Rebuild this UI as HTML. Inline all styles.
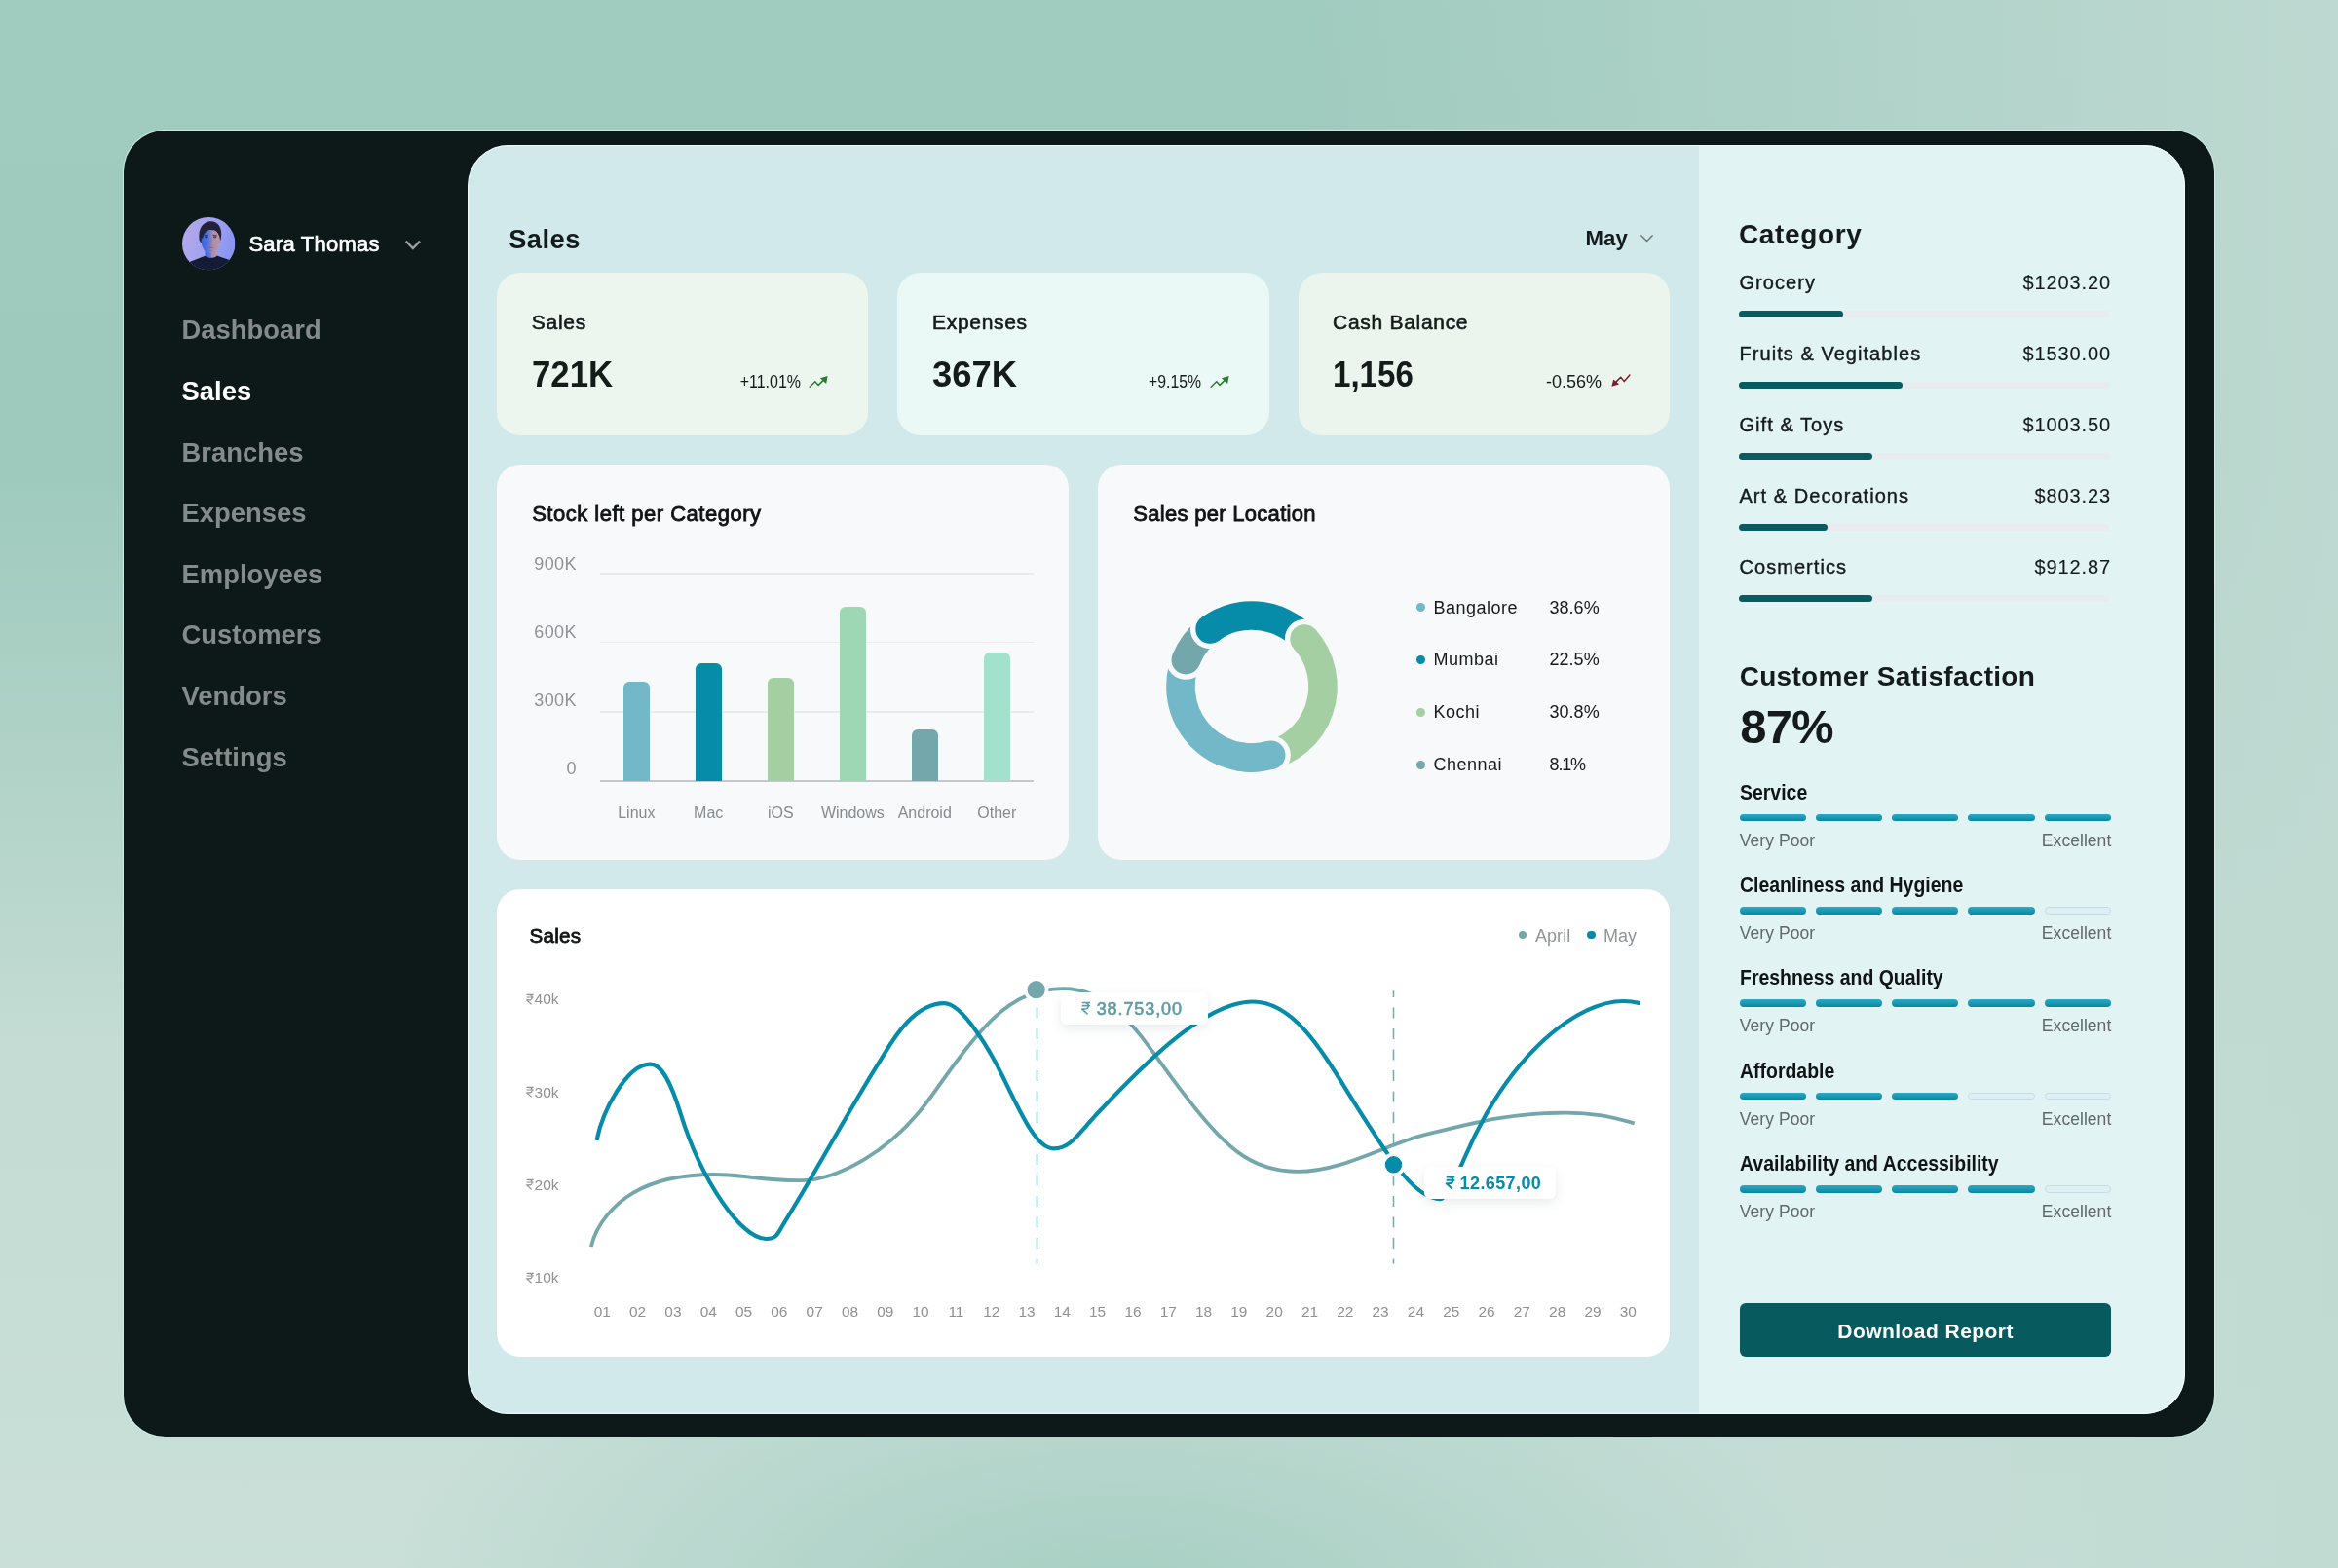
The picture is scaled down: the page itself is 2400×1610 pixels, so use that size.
<!DOCTYPE html>
<html lang="en">
<head>
<meta charset="utf-8">
<title>Sales Dashboard</title>
<style>
html,body{margin:0;padding:0;}
body{width:2400px;height:1610px;overflow:hidden;font-family:"Liberation Sans", sans-serif;
background:
 radial-gradient(ellipse 760px 340px at 1150px 1650px, rgba(163,205,192,.95), rgba(163,205,192,0) 100%),
 linear-gradient(to right, rgba(192,218,210,0) 55%, rgba(192,218,210,.92) 100%),
 linear-gradient(to bottom, #a0cbbf 0%, #9ecabd 30%, #b2d3c8 50%, #c4dcd4 67%, #c9dfd8 100%);}
.page,.page div,.page nav,.page main,.page aside,.page ul,.page li,.page span,.page h1,.page h2{position:absolute;margin:0;padding:0;}
.t,.page li,.page h1,.page h2{white-space:nowrap;line-height:1;font-weight:400;}
</style>
</head>
<body>
<div class="page" style="left:0px;top:0px;width:2400px;height:1610px;overflow:hidden;will-change:transform;">
 <div class="app" style="left:127px;top:133.5px;width:2145.5px;height:1341px;background:#0d1919;border-radius:42.5px;box-shadow:0 0 0 1px rgba(215,242,233,.75);">
  <nav class="side" style="left:0px;top:0px;width:353px;height:1341px;">
   <svg viewBox="0 0 54.4 54.4" style="left:59.6px;top:89.1px;width:54.4px;height:54.4px;position:absolute;overflow:visible;"><defs><linearGradient id="avbg" x1="0" y1="0" x2="1" y2="0.25"><stop offset="0" stop-color="#b7a9e8"/><stop offset="0.55" stop-color="#a3a2f0"/><stop offset="1" stop-color="#8a96f4"/></linearGradient>
<linearGradient id="avface" x1="0" y1="0" x2="1" y2="0"><stop offset="0" stop-color="#2f63e6"/><stop offset="0.42" stop-color="#5f78d8"/><stop offset="0.6" stop-color="#a98aa9"/><stop offset="1" stop-color="#bb98a8"/></linearGradient>
<clipPath id="avc"><circle cx="27.2" cy="27.2" r="27.2"/></clipPath></defs>
<g clip-path="url(#avc)"><rect width="54.4" height="54.4" fill="url(#avbg)"/>
<path d="M17.6 23.5C15.8 10.5 22.5 4.2 29.2 4.2C36.4 4.2 41.6 10 39.9 21.5L38.6 26H19Z" fill="#22223a"/>
<rect x="23.6" y="30" width="12.2" height="12" fill="url(#avface)"/>
<ellipse cx="29.3" cy="24.6" rx="9.7" ry="12.9" fill="url(#avface)"/>
<path d="M19.5 21.5C19.8 13.5 24 10.2 29.6 10.4C35 10.6 38.8 13.4 39.2 19.5C37 14.8 34 13 30.6 13.2C27 12.6 22.8 14.2 21.3 21.5Z" fill="#22223a"/>
<path d="M22.8 18.8L26.8 18.4M31.6 18.4L35.8 18.9" stroke="#2a2746" stroke-width="0.9" fill="none"/>
<ellipse cx="24.9" cy="20.4" rx="1.7" ry="0.8" fill="#1f2a5c"/><ellipse cx="33.6" cy="20.4" rx="1.7" ry="0.8" fill="#4a3550"/>
<path d="M29.6 21.5L30.2 27.2L28.4 27.6" stroke="#7b6aa8" stroke-width="0.7" fill="none" opacity=".8"/>
<path d="M26.8 31.2C28.4 30.5 31 30.5 32.9 31.2C31 32.1 28.4 32.1 26.8 31.2Z" fill="#8a5878"/>
<path d="M-2 56V49.5L7 46.2L19 41.4L23.6 39.8C26.4 42.6 33.2 42.6 36 39.6L38.3 40.6L48 43.7L58 47V56Z" fill="#141b35"/></g></svg>
   <span class="t" style="left:128.4px;top:106.58px;font-size:22px;color:#ffffff;letter-spacing:0.25px;-webkit-text-stroke:0.65px #ffffff;">Sara Thomas</span>
   <svg viewBox="0 0 24 18" style="left:285px;top:108.5px;width:24px;height:18px;position:absolute;overflow:visible;"><path d="M4.8 5.6L11.9 13L19 5.6" fill="none" stroke="#9b9f9f" stroke-width="2.3"/></svg>
   <ul class="menu" style="left:59px;top:176.5px;width:274px;height:500px;list-style:none;margin:0;padding:0;">
    <li class="t" style="left:0.6px;top:15.31px;font-size:27.4px;font-weight:700;color:#858b8b;">Dashboard</li>
    <li class="t" style="left:0.6px;top:77.94px;font-size:27.4px;font-weight:700;color:#ffffff;">Sales</li>
    <li class="t" style="left:0.6px;top:140.57px;font-size:27.4px;font-weight:700;color:#858b8b;">Branches</li>
    <li class="t" style="left:0.6px;top:203.2px;font-size:27.4px;font-weight:700;color:#858b8b;">Expenses</li>
    <li class="t" style="left:0.6px;top:265.83px;font-size:27.4px;font-weight:700;color:#858b8b;">Employees</li>
    <li class="t" style="left:0.6px;top:328.46px;font-size:27.4px;font-weight:700;color:#858b8b;">Customers</li>
    <li class="t" style="left:0.6px;top:391.09px;font-size:27.4px;font-weight:700;color:#858b8b;">Vendors</li>
    <li class="t" style="left:0.6px;top:453.72px;font-size:27.4px;font-weight:700;color:#858b8b;">Settings</li>
   </ul>
  </nav>
  <div class="content" style="left:353.3px;top:15.3px;width:1762.7px;height:1303.2px;background:#d1e9ea;border-radius:41.5px;overflow:hidden;">
   <main class="main" style="left:0px;top:0px;width:1263.6px;height:1303.2px;">
    <h1 class="t" style="left:41.9px;top:83.29px;font-size:27.3px;font-weight:700;color:#151a1a;letter-spacing:0.45px;">Sales</h1>
    <span class="t" style="left:1147.3px;top:84.71px;font-size:22.2px;font-weight:700;color:#151a1a;">May</span>
    <svg viewBox="0 0 22 16" style="left:1199.7px;top:87.2px;width:22px;height:16px;position:absolute;overflow:visible;"><path d="M4.4 5.4L10.5 11.6L16.6 5.4" fill="none" stroke="#6c7373" stroke-width="1.4"/></svg>
    <div class="stat" style="left:30px;top:131.4px;width:381.1px;height:166.4px;background:#ecf6ef;border-radius:24px;">
     <span class="t" style="left:35.5px;top:39.92px;font-size:21px;color:#151a1a;letter-spacing:0.7px;-webkit-text-stroke:0.6px #151a1a;">Sales</span>
     <span class="t" style="left:35.8px;top:87.12px;font-size:36.6px;font-weight:700;color:#151a1a;transform:scaleX(0.95);transform-origin:left center;">721K</span>
     <span class="t" style="left:311.9px;top:102.02px;font-size:19px;color:#151a1a;transform:translateX(-100%) scaleX(0.84);transform-origin:right center;">+11.01%</span>
     <svg viewBox="0 0 21 15" style="left:319.9px;top:103.8px;width:21px;height:15px;position:absolute;overflow:visible;"><path d="M1.2 13.2L6.8 7.8L10.1 11.4L16 5.6" fill="none" stroke="#2f7a33" stroke-width="1.5" stroke-linecap="round" stroke-linejoin="round"/><path d="M19.6 1.9L11.9 4.2L18.1 9.9Z" fill="#2f7a33"/></svg>
    </div>
    <div class="stat" style="left:441.2px;top:131.4px;width:381.2px;height:166.4px;background:#eaf9f5;border-radius:24px;">
     <span class="t" style="left:35.5px;top:39.92px;font-size:21px;color:#151a1a;letter-spacing:0.7px;-webkit-text-stroke:0.6px #151a1a;">Expenses</span>
     <span class="t" style="left:35.8px;top:87.12px;font-size:36.6px;font-weight:700;color:#151a1a;transform:scaleX(0.995);transform-origin:left center;">367K</span>
     <span class="t" style="left:311.5px;top:102.02px;font-size:19px;color:#151a1a;transform:translateX(-100%) scaleX(0.83);transform-origin:right center;">+9.15%</span>
     <svg viewBox="0 0 21 15" style="left:320.4px;top:103.8px;width:21px;height:15px;position:absolute;overflow:visible;"><path d="M1.2 13.2L6.8 7.8L10.1 11.4L16 5.6" fill="none" stroke="#2f7a33" stroke-width="1.5" stroke-linecap="round" stroke-linejoin="round"/><path d="M19.6 1.9L11.9 4.2L18.1 9.9Z" fill="#2f7a33"/></svg>
    </div>
    <div class="stat" style="left:852.3px;top:131.4px;width:381.4px;height:166.4px;background:#ecf5ed;border-radius:24px;">
     <span class="t" style="left:35.5px;top:39.92px;font-size:21px;color:#151a1a;letter-spacing:0.7px;-webkit-text-stroke:0.6px #151a1a;">Cash Balance</span>
     <span class="t" style="left:35.8px;top:87.12px;font-size:36.6px;font-weight:700;color:#151a1a;transform:scaleX(0.905);transform-origin:left center;">1,156</span>
     <span class="t" style="left:311.9px;top:102.02px;font-size:19px;color:#151a1a;transform:translateX(-100%) scaleX(0.947);transform-origin:right center;">-0.56%</span>
     <svg viewBox="0 0 21 15" style="left:321.4px;top:103.8px;width:21px;height:15px;position:absolute;overflow:visible;"><path d="M18.9 1.1L13.3 7.6L9.7 3.2L4.6 8.4" fill="none" stroke="#7d1f2a" stroke-width="1.5" stroke-linecap="round" stroke-linejoin="round"/><path d="M0.4 12.7L2.2 5.5L8.1 10.6Z" fill="#7d1f2a"/></svg>
    </div>
    <div class="card" style="left:30.1px;top:328px;width:586.9px;height:406.4px;background:#f7f9fb;border-radius:24px;">
     <h2 class="t" style="left:35.8px;top:39.98px;font-size:22px;color:#101414;letter-spacing:0.5px;-webkit-text-stroke:0.85px #101414;">Stock left per Category</h2>
     <span class="t" style="left:81.2px;top:93.46px;font-size:18px;color:#8d9296;letter-spacing:0.45px;margin-left:0.45px;transform:translateX(-100%);transform-origin:right center;">900K</span>
     <div class="grid" style="left:105.5px;top:111.7px;width:445.4px;height:1.2px;background:#e9ebee;"></div>
     <span class="t" style="left:81.2px;top:163.56px;font-size:18px;color:#8d9296;letter-spacing:0.45px;margin-left:0.45px;transform:translateX(-100%);transform-origin:right center;">600K</span>
     <div class="grid" style="left:105.5px;top:182.4px;width:445.4px;height:1.2px;background:#e9ebee;"></div>
     <span class="t" style="left:81.2px;top:233.46px;font-size:18px;color:#8d9296;letter-spacing:0.45px;margin-left:0.45px;transform:translateX(-100%);transform-origin:right center;">300K</span>
     <div class="grid" style="left:105.5px;top:253.7px;width:445.4px;height:1.2px;background:#e9ebee;"></div>
     <span class="t" style="left:81.2px;top:303.36px;font-size:18px;color:#8d9296;letter-spacing:0.45px;margin-left:0.45px;transform:translateX(-100%);transform-origin:right center;">0</span>
     <div class="axis" style="left:105.5px;top:324.6px;width:445.4px;height:1.4px;background:#c4c8cc;"></div>
     <div class="bar" style="left:129.6px;top:223.4px;width:26.7px;height:101.6px;background:#73b8c8;border-radius:6px 6px 0 0;"></div>
     <span class="t" style="left:142.95px;top:349.96px;font-size:16px;color:#868b8f;transform:translateX(-50%);transform-origin:center center;">Linux</span>
     <div class="bar" style="left:203.5px;top:204.1px;width:26.7px;height:120.9px;background:#068ba8;border-radius:6px 6px 0 0;"></div>
     <span class="t" style="left:216.85px;top:349.96px;font-size:16px;color:#868b8f;transform:translateX(-50%);transform-origin:center center;">Mac</span>
     <div class="bar" style="left:277.6px;top:219px;width:26.7px;height:106px;background:#a3cfa2;border-radius:6px 6px 0 0;"></div>
     <span class="t" style="left:290.95px;top:349.96px;font-size:16px;color:#868b8f;transform:translateX(-50%);transform-origin:center center;">iOS</span>
     <div class="bar" style="left:351.6px;top:146px;width:26.7px;height:179px;background:#9dd7b3;border-radius:6px 6px 0 0;"></div>
     <span class="t" style="left:364.95px;top:349.96px;font-size:16px;color:#868b8f;transform:translateX(-50%);transform-origin:center center;">Windows</span>
     <div class="bar" style="left:425.5px;top:272.6px;width:26.7px;height:52.4px;background:#74a7ab;border-radius:6px 6px 0 0;"></div>
     <span class="t" style="left:438.85px;top:349.96px;font-size:16px;color:#868b8f;transform:translateX(-50%);transform-origin:center center;">Android</span>
     <div class="bar" style="left:499.6px;top:193.4px;width:26.7px;height:131.6px;background:#a2e2cd;border-radius:6px 6px 0 0;"></div>
     <span class="t" style="left:512.95px;top:349.96px;font-size:16px;color:#868b8f;transform:translateX(-50%);transform-origin:center center;">Other</span>
    </div>
    <div class="card" style="left:646.5px;top:328px;width:587.2px;height:406.4px;background:#f7f9fb;border-radius:24px;">
     <h2 class="t" style="left:36.4px;top:39.98px;font-size:22px;color:#101414;letter-spacing:0.3px;-webkit-text-stroke:0.85px #101414;">Sales per Location</h2>
     <svg viewBox="0 0 200 200" style="left:58.1px;top:127.9px;width:200px;height:200px;position:absolute;overflow:visible;"><path d="M119.63 170.31A73 73 0 0 1 35.54 65.73" fill="none" stroke="#73b8c8" stroke-width="29.6"/><circle cx="32.32" cy="72.65" r="20.2" fill="#f7f9fb"/><path d="M32.32 72.65A73 73 0 0 1 63.5 36.78" fill="none" stroke="#74a7ab" stroke-width="29.6"/><circle cx="32.32" cy="72.65" r="14.8" fill="#74a7ab"/><circle cx="57.09" cy="40.94" r="20.2" fill="#f7f9fb"/><path d="M57.09 40.94A73 73 0 0 1 158.91 56.89" fill="none" stroke="#068ba8" stroke-width="29.6"/><circle cx="57.09" cy="40.94" r="14.8" fill="#068ba8"/><circle cx="154.08" cy="50.96" r="20.2" fill="#f7f9fb"/><path d="M154.08 50.96A73 73 0 0 1 112.17 171.98" fill="none" stroke="#a3cfa2" stroke-width="29.6"/><circle cx="154.08" cy="50.96" r="14.8" fill="#a3cfa2"/><circle cx="119.63" cy="170.31" r="20.2" fill="#f7f9fb"/><path d="M119.63 170.31A73 73 0 0 1 86.82 171.8" fill="none" stroke="#73b8c8" stroke-width="29.6"/><circle cx="119.63" cy="170.31" r="14.8" fill="#73b8c8"/></svg>
     <div class="dot" style="left:327.6px;top:142.4px;width:9px;height:9px;background:#73b8c8;border-radius:50%;"></div>
     <span class="t" style="left:344.6px;top:137.76px;font-size:18px;color:#151a1a;letter-spacing:0.5px;">Bangalore</span>
     <span class="t" style="left:463.8px;top:137.76px;font-size:18px;color:#151a1a;">38.6%</span>
     <div class="dot" style="left:327.6px;top:196.3px;width:9px;height:9px;background:#068ba8;border-radius:50%;"></div>
     <span class="t" style="left:344.6px;top:191.66px;font-size:18px;color:#151a1a;letter-spacing:0.5px;">Mumbai</span>
     <span class="t" style="left:463.8px;top:191.66px;font-size:18px;color:#151a1a;">22.5%</span>
     <div class="dot" style="left:327.6px;top:249.9px;width:9px;height:9px;background:#a3cfa2;border-radius:50%;"></div>
     <span class="t" style="left:344.6px;top:245.26px;font-size:18px;color:#151a1a;letter-spacing:0.5px;">Kochi</span>
     <span class="t" style="left:463.8px;top:245.26px;font-size:18px;color:#151a1a;">30.8%</span>
     <div class="dot" style="left:327.6px;top:303.8px;width:9px;height:9px;background:#74a7ab;border-radius:50%;"></div>
     <span class="t" style="left:344.6px;top:299.16px;font-size:18px;color:#151a1a;letter-spacing:0.5px;">Chennai</span>
     <span class="t" style="left:463.8px;top:299.16px;font-size:18px;color:#151a1a;letter-spacing:-1.2px;">8.1%</span>
    </div>
    <div class="card" style="left:30.1px;top:764.2px;width:1203.6px;height:479.8px;background:#ffffff;border-radius:24px;">
     <h2 class="t" style="left:33px;top:37.76px;font-size:20.6px;color:#101414;letter-spacing:0.3px;-webkit-text-stroke:0.8px #101414;">Sales</h2>
     <div class="dot" style="left:1048.4px;top:42.9px;width:8.6px;height:8.6px;background:#74a7ab;border-radius:50%;"></div>
     <span class="t" style="left:1065.5px;top:39.26px;font-size:18px;color:#8f9496;letter-spacing:0.1px;">April</span>
     <div class="dot" style="left:1119px;top:42.9px;width:8.6px;height:8.6px;background:#068ba8;border-radius:50%;"></div>
     <span class="t" style="left:1135.5px;top:39.26px;font-size:18px;color:#8f9496;">May</span>
     <svg viewBox="0 0 9 12" style="left:29.4px;top:106.6px;width:9px;height:12px;position:absolute;overflow:visible;"><path d="M0.6 1.32H7.67M0.6 4.02H7.67M0.6 1.32H2.72C7.32 1.32 7.32 6.93 2.72 6.93H0.6L5.55 11.3" fill="none" stroke="#8e9092" stroke-width="1.15" stroke-linejoin="round"/></svg>
     <span class="t" style="left:38.2px;top:104.98px;font-size:15.5px;color:#8e9092;">40k</span>
     <svg viewBox="0 0 9 12" style="left:29.4px;top:202.2px;width:9px;height:12px;position:absolute;overflow:visible;"><path d="M0.6 1.32H7.67M0.6 4.02H7.67M0.6 1.32H2.72C7.32 1.32 7.32 6.93 2.72 6.93H0.6L5.55 11.3" fill="none" stroke="#8e9092" stroke-width="1.15" stroke-linejoin="round"/></svg>
     <span class="t" style="left:38.2px;top:200.58px;font-size:15.5px;color:#8e9092;">30k</span>
     <svg viewBox="0 0 9 12" style="left:29.4px;top:297.5px;width:9px;height:12px;position:absolute;overflow:visible;"><path d="M0.6 1.32H7.67M0.6 4.02H7.67M0.6 1.32H2.72C7.32 1.32 7.32 6.93 2.72 6.93H0.6L5.55 11.3" fill="none" stroke="#8e9092" stroke-width="1.15" stroke-linejoin="round"/></svg>
     <span class="t" style="left:38.2px;top:295.88px;font-size:15.5px;color:#8e9092;">20k</span>
     <svg viewBox="0 0 9 12" style="left:29.4px;top:392.9px;width:9px;height:12px;position:absolute;overflow:visible;"><path d="M0.6 1.32H7.67M0.6 4.02H7.67M0.6 1.32H2.72C7.32 1.32 7.32 6.93 2.72 6.93H0.6L5.55 11.3" fill="none" stroke="#8e9092" stroke-width="1.15" stroke-linejoin="round"/></svg>
     <span class="t" style="left:38.2px;top:391.28px;font-size:15.5px;color:#8e9092;">10k</span>
     <span class="t" style="left:107.9px;top:425.56px;font-size:15.4px;color:#8e9092;transform:translateX(-50%);transform-origin:center center;">01</span>
     <span class="t" style="left:144.21px;top:425.56px;font-size:15.4px;color:#8e9092;transform:translateX(-50%);transform-origin:center center;">02</span>
     <span class="t" style="left:180.52px;top:425.56px;font-size:15.4px;color:#8e9092;transform:translateX(-50%);transform-origin:center center;">03</span>
     <span class="t" style="left:216.83px;top:425.56px;font-size:15.4px;color:#8e9092;transform:translateX(-50%);transform-origin:center center;">04</span>
     <span class="t" style="left:253.14px;top:425.56px;font-size:15.4px;color:#8e9092;transform:translateX(-50%);transform-origin:center center;">05</span>
     <span class="t" style="left:289.45px;top:425.56px;font-size:15.4px;color:#8e9092;transform:translateX(-50%);transform-origin:center center;">06</span>
     <span class="t" style="left:325.76px;top:425.56px;font-size:15.4px;color:#8e9092;transform:translateX(-50%);transform-origin:center center;">07</span>
     <span class="t" style="left:362.07px;top:425.56px;font-size:15.4px;color:#8e9092;transform:translateX(-50%);transform-origin:center center;">08</span>
     <span class="t" style="left:398.38px;top:425.56px;font-size:15.4px;color:#8e9092;transform:translateX(-50%);transform-origin:center center;">09</span>
     <span class="t" style="left:434.69px;top:425.56px;font-size:15.4px;color:#8e9092;transform:translateX(-50%);transform-origin:center center;">10</span>
     <span class="t" style="left:471px;top:425.56px;font-size:15.4px;color:#8e9092;transform:translateX(-50%);transform-origin:center center;">11</span>
     <span class="t" style="left:507.31px;top:425.56px;font-size:15.4px;color:#8e9092;transform:translateX(-50%);transform-origin:center center;">12</span>
     <span class="t" style="left:543.62px;top:425.56px;font-size:15.4px;color:#8e9092;transform:translateX(-50%);transform-origin:center center;">13</span>
     <span class="t" style="left:579.93px;top:425.56px;font-size:15.4px;color:#8e9092;transform:translateX(-50%);transform-origin:center center;">14</span>
     <span class="t" style="left:616.24px;top:425.56px;font-size:15.4px;color:#8e9092;transform:translateX(-50%);transform-origin:center center;">15</span>
     <span class="t" style="left:652.55px;top:425.56px;font-size:15.4px;color:#8e9092;transform:translateX(-50%);transform-origin:center center;">16</span>
     <span class="t" style="left:688.86px;top:425.56px;font-size:15.4px;color:#8e9092;transform:translateX(-50%);transform-origin:center center;">17</span>
     <span class="t" style="left:725.17px;top:425.56px;font-size:15.4px;color:#8e9092;transform:translateX(-50%);transform-origin:center center;">18</span>
     <span class="t" style="left:761.48px;top:425.56px;font-size:15.4px;color:#8e9092;transform:translateX(-50%);transform-origin:center center;">19</span>
     <span class="t" style="left:797.79px;top:425.56px;font-size:15.4px;color:#8e9092;transform:translateX(-50%);transform-origin:center center;">20</span>
     <span class="t" style="left:834.1px;top:425.56px;font-size:15.4px;color:#8e9092;transform:translateX(-50%);transform-origin:center center;">21</span>
     <span class="t" style="left:870.41px;top:425.56px;font-size:15.4px;color:#8e9092;transform:translateX(-50%);transform-origin:center center;">22</span>
     <span class="t" style="left:906.72px;top:425.56px;font-size:15.4px;color:#8e9092;transform:translateX(-50%);transform-origin:center center;">23</span>
     <span class="t" style="left:943.03px;top:425.56px;font-size:15.4px;color:#8e9092;transform:translateX(-50%);transform-origin:center center;">24</span>
     <span class="t" style="left:979.34px;top:425.56px;font-size:15.4px;color:#8e9092;transform:translateX(-50%);transform-origin:center center;">25</span>
     <span class="t" style="left:1015.65px;top:425.56px;font-size:15.4px;color:#8e9092;transform:translateX(-50%);transform-origin:center center;">26</span>
     <span class="t" style="left:1051.96px;top:425.56px;font-size:15.4px;color:#8e9092;transform:translateX(-50%);transform-origin:center center;">27</span>
     <span class="t" style="left:1088.27px;top:425.56px;font-size:15.4px;color:#8e9092;transform:translateX(-50%);transform-origin:center center;">28</span>
     <span class="t" style="left:1124.58px;top:425.56px;font-size:15.4px;color:#8e9092;transform:translateX(-50%);transform-origin:center center;">29</span>
     <span class="t" style="left:1160.89px;top:425.56px;font-size:15.4px;color:#8e9092;transform:translateX(-50%);transform-origin:center center;">30</span>
     <svg viewBox="0 0 1203.6 479.8" style="left:0px;top:0px;width:1203.6px;height:479.8px;position:absolute;overflow:visible;"><path d="M554.5 99.9V384.5" fill="none" stroke="#74a7ab" stroke-width="1.5" stroke-dasharray="11 10.5"/><path d="M920.5 104.2V384.5" fill="none" stroke="#74a7ab" stroke-width="1.5" stroke-dasharray="11 10.5" stroke-dashoffset="4.3"/><path d="M96.8 367.2C102.1 343 121.6 322.5 140.3 311.6C163.6 298 189.6 293 223.1 293C256.17 293.03 267.58 299.13 310.94 299.13C347.95 299.13 404.9 270.69 446.2 212.44C496.14 142.01 525.65 102.06 581.54 102.06C636.6 102.06 662.13 154.3 703.31 207.64C745.11 261.79 771.21 289.89 822.27 289.89C867.84 289.89 913.81 261.47 952.65 252.1C997.26 241.33 1038.03 229.54 1096.97 229.54C1125.5 229.54 1143.57 233.7 1167.7 240.4" fill="none" stroke="#74a7ab" stroke-width="3.8"/><path d="M102.55 257.8C108.27 228.33 133.3 179.64 157.53 179.64C168.19 179.64 177.53 194.51 188.71 230.72C209.91 299.4 250.96 358.99 276.47 358.99C287.87 358.99 288.18 353.59 295.88 341.2C328.45 288.77 366.47 217.96 394.89 173.78C402.07 162.63 425.2 117.17 459.36 117.17C477.16 117.17 505.02 162.75 519.66 193.04C539.34 233.76 554.57 266.38 571.49 266.38C589.03 266.38 596.17 251.77 617.7 228.97C658.98 185.26 725.18 115.52 776 115.52C823.34 115.52 854.05 179.05 888.51 232.27C914.39 272.24 941.62 318.18 968.47 318.18C972.33 318.18 979.56 307.79 994.12 274.26C1041.09 166.07 1110.87 114.98 1156.42 114.98C1162.6 115 1168.6 115.9 1173.5 117.1" fill="none" stroke="#068ba8" stroke-width="4.2"/><circle cx="553.7" cy="103.2" r="12.7" fill="#fff"/><circle cx="553.7" cy="103.2" r="9.1" fill="#74a7ab"/><circle cx="920.5" cy="282.8" r="12.4" fill="#fff"/><circle cx="920.5" cy="282.8" r="8.7" fill="#068ba8"/></svg>
     <div class="tip" style="left:578.8px;top:106.3px;width:150.5px;height:33px;background:#fff;border-radius:6px;box-shadow:0 4px 12px rgba(40,70,80,.11);">
      <svg viewBox="0 0 11 15" style="left:20.9px;top:8.3px;width:11px;height:15px;position:absolute;overflow:visible;"><path d="M0.7 1.4H9.13M0.7 4.62H9.13M0.7 1.4H3.23C8.71 1.4 8.71 8.09 3.23 8.09H0.7L6.6 13.3" fill="none" stroke="#5e9ca3" stroke-width="1.55" stroke-linejoin="round"/></svg>
      <span class="t" style="left:36.5px;top:7.36px;font-size:18px;color:#5e9ca3;letter-spacing:0.9px;-webkit-text-stroke:0.6px #5e9ca3;">38.753,00</span>
     </div>
     <div class="tip" style="left:951.6px;top:285.1px;width:135.3px;height:32.9px;background:#fff;border-radius:6px;box-shadow:0 4px 12px rgba(40,70,80,.11);">
      <svg viewBox="0 0 11 15" style="left:21.6px;top:8.5px;width:11px;height:15px;position:absolute;overflow:visible;"><path d="M0.7 1.4H9.27M0.7 4.68H9.27M0.7 1.4H3.27C8.84 1.4 8.84 8.21 3.27 8.21H0.7L6.7 13.5" fill="none" stroke="#068ba8" stroke-width="2" stroke-linejoin="round"/></svg>
      <span class="t" style="left:36.6px;top:7.76px;font-size:18px;font-weight:700;color:#068ba8;letter-spacing:0.4px;">12.657,00</span>
     </div>
    </div>
   </main>
   <aside class="aside" style="left:1263.6px;top:0px;width:499.1px;height:1303.2px;background:#e2f3f3;">
    <h2 class="t" style="left:41.1px;top:78.1px;font-size:28px;font-weight:700;color:#151a1a;letter-spacing:0.65px;">Category</h2>
    <span class="t" style="left:41.6px;top:131.17px;font-size:20px;color:#151a1a;letter-spacing:1.05px;-webkit-text-stroke:0.4px #151a1a;">Grocery</span>
    <span class="t" style="left:422.3px;top:131.17px;font-size:20px;color:#151a1a;letter-spacing:0.88px;-webkit-text-stroke:0.1px #151a1a;margin-left:0.88px;transform:translateX(-100%);transform-origin:right center;">$1203.20</span>
    <div class="track" style="left:40.9px;top:170.3px;width:381.1px;height:7.4px;background:#e8ecf0;border-radius:4px;">
     <div class="fill" style="left:0px;top:0px;width:107px;height:7.4px;background:#085b5e;border-radius:4px;"></div>
    </div>
    <span class="t" style="left:41.6px;top:204.12px;font-size:20px;color:#151a1a;letter-spacing:1.05px;-webkit-text-stroke:0.4px #151a1a;">Fruits &amp; Vegitables</span>
    <span class="t" style="left:422.3px;top:204.12px;font-size:20px;color:#151a1a;letter-spacing:0.88px;-webkit-text-stroke:0.1px #151a1a;margin-left:0.88px;transform:translateX(-100%);transform-origin:right center;">$1530.00</span>
    <div class="track" style="left:40.9px;top:243.25px;width:381.1px;height:7.4px;background:#e8ecf0;border-radius:4px;">
     <div class="fill" style="left:0px;top:0px;width:168px;height:7.4px;background:#085b5e;border-radius:4px;"></div>
    </div>
    <span class="t" style="left:41.6px;top:277.07px;font-size:20px;color:#151a1a;letter-spacing:1.05px;-webkit-text-stroke:0.4px #151a1a;">Gift &amp; Toys</span>
    <span class="t" style="left:422.3px;top:277.07px;font-size:20px;color:#151a1a;letter-spacing:0.88px;-webkit-text-stroke:0.1px #151a1a;margin-left:0.88px;transform:translateX(-100%);transform-origin:right center;">$1003.50</span>
    <div class="track" style="left:40.9px;top:316.2px;width:381.1px;height:7.4px;background:#e8ecf0;border-radius:4px;">
     <div class="fill" style="left:0px;top:0px;width:137px;height:7.4px;background:#085b5e;border-radius:4px;"></div>
    </div>
    <span class="t" style="left:41.6px;top:350.02px;font-size:20px;color:#151a1a;letter-spacing:1.05px;-webkit-text-stroke:0.4px #151a1a;">Art &amp; Decorations</span>
    <span class="t" style="left:422.3px;top:350.02px;font-size:20px;color:#151a1a;letter-spacing:0.88px;-webkit-text-stroke:0.1px #151a1a;margin-left:0.88px;transform:translateX(-100%);transform-origin:right center;">$803.23</span>
    <div class="track" style="left:40.9px;top:389.15px;width:381.1px;height:7.4px;background:#e8ecf0;border-radius:4px;">
     <div class="fill" style="left:0px;top:0px;width:91.6px;height:7.4px;background:#085b5e;border-radius:4px;"></div>
    </div>
    <span class="t" style="left:41.6px;top:422.97px;font-size:20px;color:#151a1a;letter-spacing:1.05px;-webkit-text-stroke:0.4px #151a1a;">Cosmertics</span>
    <span class="t" style="left:422.3px;top:422.97px;font-size:20px;color:#151a1a;letter-spacing:0.88px;-webkit-text-stroke:0.1px #151a1a;margin-left:0.88px;transform:translateX(-100%);transform-origin:right center;">$912.87</span>
    <div class="track" style="left:40.9px;top:462.1px;width:381.1px;height:7.4px;background:#e8ecf0;border-radius:4px;">
     <div class="fill" style="left:0px;top:0px;width:137px;height:7.4px;background:#085b5e;border-radius:4px;"></div>
    </div>
    <h2 class="t" style="left:41.8px;top:532px;font-size:28px;font-weight:700;color:#151a1a;letter-spacing:0.3px;">Customer Satisfaction</h2>
    <span class="t" style="left:42.3px;top:572.92px;font-size:49px;font-weight:700;color:#151a1a;letter-spacing:-0.8px;">87%</span>
    <span class="t" style="left:41.9px;top:654.9px;font-size:21.5px;font-weight:700;color:#101414;transform:scaleX(0.905);transform-origin:left center;">Service</span>
    <div class="seg on" style="left:41.8px;top:687px;width:68.3px;height:7.4px;background:linear-gradient(#2aaac6,#0a86a2);border-radius:4px;"></div>
    <div class="seg on" style="left:120.05px;top:687px;width:68.3px;height:7.4px;background:linear-gradient(#2aaac6,#0a86a2);border-radius:4px;"></div>
    <div class="seg on" style="left:198.3px;top:687px;width:68.3px;height:7.4px;background:linear-gradient(#2aaac6,#0a86a2);border-radius:4px;"></div>
    <div class="seg on" style="left:276.55px;top:687px;width:68.3px;height:7.4px;background:linear-gradient(#2aaac6,#0a86a2);border-radius:4px;"></div>
    <div class="seg on" style="left:354.8px;top:687px;width:68.3px;height:7.4px;background:linear-gradient(#2aaac6,#0a86a2);border-radius:4px;"></div>
    <span class="t" style="left:41.9px;top:705.89px;font-size:17.5px;color:#62686b;letter-spacing:0.05px;">Very Poor</span>
    <span class="t" style="left:423.4px;top:705.89px;font-size:17.5px;color:#62686b;letter-spacing:0.05px;margin-left:0.05px;transform:translateX(-100%);transform-origin:right center;">Excellent</span>
    <span class="t" style="left:41.9px;top:750.23px;font-size:21.5px;font-weight:700;color:#101414;transform:scaleX(0.905);transform-origin:left center;">Cleanliness and Hygiene</span>
    <div class="seg on" style="left:41.8px;top:782.33px;width:68.3px;height:7.4px;background:linear-gradient(#2aaac6,#0a86a2);border-radius:4px;"></div>
    <div class="seg on" style="left:120.05px;top:782.33px;width:68.3px;height:7.4px;background:linear-gradient(#2aaac6,#0a86a2);border-radius:4px;"></div>
    <div class="seg on" style="left:198.3px;top:782.33px;width:68.3px;height:7.4px;background:linear-gradient(#2aaac6,#0a86a2);border-radius:4px;"></div>
    <div class="seg on" style="left:276.55px;top:782.33px;width:68.3px;height:7.4px;background:linear-gradient(#2aaac6,#0a86a2);border-radius:4px;"></div>
    <div class="seg" style="left:354.8px;top:782.33px;width:68.3px;height:7.4px;background:#e0eff3;border:1.3px solid #c4dde5;box-sizing:border-box;border-radius:4px;"></div>
    <span class="t" style="left:41.9px;top:801.22px;font-size:17.5px;color:#62686b;letter-spacing:0.05px;">Very Poor</span>
    <span class="t" style="left:423.4px;top:801.22px;font-size:17.5px;color:#62686b;letter-spacing:0.05px;margin-left:0.05px;transform:translateX(-100%);transform-origin:right center;">Excellent</span>
    <span class="t" style="left:41.9px;top:845.56px;font-size:21.5px;font-weight:700;color:#101414;transform:scaleX(0.905);transform-origin:left center;">Freshness and Quality</span>
    <div class="seg on" style="left:41.8px;top:877.66px;width:68.3px;height:7.4px;background:linear-gradient(#2aaac6,#0a86a2);border-radius:4px;"></div>
    <div class="seg on" style="left:120.05px;top:877.66px;width:68.3px;height:7.4px;background:linear-gradient(#2aaac6,#0a86a2);border-radius:4px;"></div>
    <div class="seg on" style="left:198.3px;top:877.66px;width:68.3px;height:7.4px;background:linear-gradient(#2aaac6,#0a86a2);border-radius:4px;"></div>
    <div class="seg on" style="left:276.55px;top:877.66px;width:68.3px;height:7.4px;background:linear-gradient(#2aaac6,#0a86a2);border-radius:4px;"></div>
    <div class="seg on" style="left:354.8px;top:877.66px;width:68.3px;height:7.4px;background:linear-gradient(#2aaac6,#0a86a2);border-radius:4px;"></div>
    <span class="t" style="left:41.9px;top:896.55px;font-size:17.5px;color:#62686b;letter-spacing:0.05px;">Very Poor</span>
    <span class="t" style="left:423.4px;top:896.55px;font-size:17.5px;color:#62686b;letter-spacing:0.05px;margin-left:0.05px;transform:translateX(-100%);transform-origin:right center;">Excellent</span>
    <span class="t" style="left:41.9px;top:940.89px;font-size:21.5px;font-weight:700;color:#101414;transform:scaleX(0.905);transform-origin:left center;">Affordable</span>
    <div class="seg on" style="left:41.8px;top:972.99px;width:68.3px;height:7.4px;background:linear-gradient(#2aaac6,#0a86a2);border-radius:4px;"></div>
    <div class="seg on" style="left:120.05px;top:972.99px;width:68.3px;height:7.4px;background:linear-gradient(#2aaac6,#0a86a2);border-radius:4px;"></div>
    <div class="seg on" style="left:198.3px;top:972.99px;width:68.3px;height:7.4px;background:linear-gradient(#2aaac6,#0a86a2);border-radius:4px;"></div>
    <div class="seg" style="left:276.55px;top:972.99px;width:68.3px;height:7.4px;background:#e0eff3;border:1.3px solid #c4dde5;box-sizing:border-box;border-radius:4px;"></div>
    <div class="seg" style="left:354.8px;top:972.99px;width:68.3px;height:7.4px;background:#e0eff3;border:1.3px solid #c4dde5;box-sizing:border-box;border-radius:4px;"></div>
    <span class="t" style="left:41.9px;top:991.88px;font-size:17.5px;color:#62686b;letter-spacing:0.05px;">Very Poor</span>
    <span class="t" style="left:423.4px;top:991.88px;font-size:17.5px;color:#62686b;letter-spacing:0.05px;margin-left:0.05px;transform:translateX(-100%);transform-origin:right center;">Excellent</span>
    <span class="t" style="left:41.9px;top:1036.22px;font-size:21.5px;font-weight:700;color:#101414;transform:scaleX(0.905);transform-origin:left center;">Availability and Accessibility</span>
    <div class="seg on" style="left:41.8px;top:1068.32px;width:68.3px;height:7.4px;background:linear-gradient(#2aaac6,#0a86a2);border-radius:4px;"></div>
    <div class="seg on" style="left:120.05px;top:1068.32px;width:68.3px;height:7.4px;background:linear-gradient(#2aaac6,#0a86a2);border-radius:4px;"></div>
    <div class="seg on" style="left:198.3px;top:1068.32px;width:68.3px;height:7.4px;background:linear-gradient(#2aaac6,#0a86a2);border-radius:4px;"></div>
    <div class="seg on" style="left:276.55px;top:1068.32px;width:68.3px;height:7.4px;background:linear-gradient(#2aaac6,#0a86a2);border-radius:4px;"></div>
    <div class="seg" style="left:354.8px;top:1068.32px;width:68.3px;height:7.4px;background:#e0eff3;border:1.3px solid #c4dde5;box-sizing:border-box;border-radius:4px;"></div>
    <span class="t" style="left:41.9px;top:1087.21px;font-size:17.5px;color:#62686b;letter-spacing:0.05px;">Very Poor</span>
    <span class="t" style="left:423.4px;top:1087.21px;font-size:17.5px;color:#62686b;letter-spacing:0.05px;margin-left:0.05px;transform:translateX(-100%);transform-origin:right center;">Excellent</span>
    <div class="btn" style="left:41.7px;top:1189.3px;width:381.5px;height:54.7px;background:#075b5e;border-radius:6px;">
     <span class="t" style="left:190.8px;top:17.82px;font-size:21px;font-weight:700;color:#ffffff;letter-spacing:0.45px;margin-left:0.23px;transform:translateX(-50%);transform-origin:center center;">Download Report</span>
    </div>
   </aside>
   <div class="edge" style="left:0px;top:0px;width:1762.7px;height:1303.2px;border-radius:41.5px;box-shadow:inset 0 0 0 1.2px rgba(255,255,255,.6);pointer-events:none;"></div>
  </div>
 </div>
</div>
</body>
</html>
